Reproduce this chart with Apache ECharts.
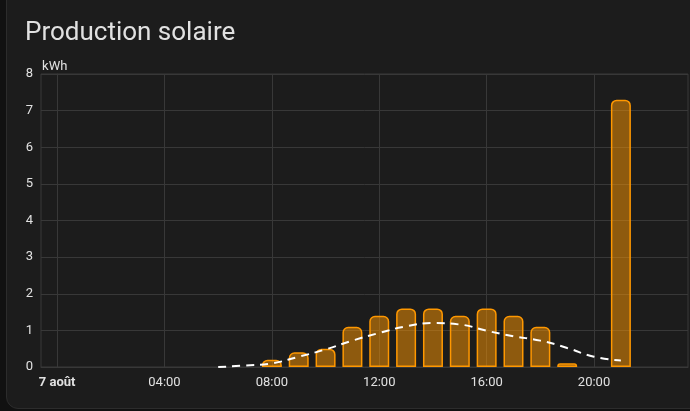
<!DOCTYPE html>
<html>
<head>
<meta charset="utf-8">
<script src="https://cdn.jsdelivr.net/npm/echarts@6/dist/echarts.min.js"></script>
<style>
  html, body { margin: 0; padding: 0; background: #111111; }
  #card {
    position: absolute; left: 6px; top: -20px; width: 700px; height: 427px;
    background: #1c1c1c; border: 1px solid #2c2c2c; border-radius: 12px;
  }
  #chart { position: absolute; left: 0; top: 0; width: 690px; height: 411px; }
</style>
</head>
<body>
<div id="card"></div>
<div id="chart"></div>
<script>
// production par heure (kWh)
var barHours = [8, 9, 10, 11, 12, 13, 14, 15, 16, 17, 18, 19, 20, 21];
var barValues = [0.2, 0.4, 0.5, 1.1, 1.4, 1.6, 1.6, 1.4, 1.6, 1.4, 1.1, 0.1, 0, 7.3];
// prévision (ligne pointillée)
var forecastHours = [6, 7, 8, 9, 10, 11, 12, 13, 14, 15, 16, 17, 18, 19, 20, 21];
var forecastValues = [0, 0.04, 0.1, 0.28, 0.48, 0.72, 0.93, 1.11, 1.2, 1.16, 0.99, 0.84, 0.72, 0.52, 0.28, 0.18];
// graduations de l'axe horaire
var tickHours = [0, 4, 8, 12, 16, 20];
var tickLabels = ['7 août', '04:00', '08:00', '12:00', '16:00', '20:00'];

var textColor = '#e1e1e1';
var gridColor = '#383838';

var chart = echarts.init(document.getElementById('chart'));

var barData = barHours.map(function(h, i) {
    return [h, barValues[i] > 0 ? barValues[i] : null];
});
var lineData = forecastHours.map(function(h, i) {
    return [h, forecastValues[i]];
});

chart.setOption({
    backgroundColor: 'transparent',
    animation: false,
    textStyle: { fontFamily: 'Roboto' },
    title: {
        text: 'Production solaire',
        left: 20,
        top: 15,
        textStyle: { color: textColor, fontSize: 26, fontWeight: 'normal', fontFamily: 'Roboto' }
    },
    grid: {
        left: 41, right: 2, top: 74, bottom: 44,
        show: true, borderColor: gridColor, borderWidth: 1
    },
    xAxis: {
        type: 'value',
        min: -0.6,
        max: 23.5,
        axisLine: { show: true, lineStyle: { color: gridColor } },
        axisTick: { show: false, customValues: tickHours },
        splitLine: { show: true, lineStyle: { color: gridColor } },
        axisLabel: {
            customValues: tickHours,
            color: textColor,
            fontSize: 13,
            margin: 9,
            formatter: function(v) {
                var i = tickHours.indexOf(v);
                var s = i >= 0 ? tickLabels[i] : '';
                return i === 0 ? '{b|' + s + '}' : s;
            },
            rich: { b: { fontWeight: 'bold', color: textColor, fontSize: 13 } }
        }
    },
    yAxis: {
        type: 'value',
        min: 0,
        max: 8,
        interval: 1,
        name: 'kWh',
        nameGap: 1,
        nameTextStyle: { color: textColor, fontSize: 13, align: 'left', padding: [0, 0, 0, -15] },
        axisLine: { show: true, lineStyle: { color: gridColor } },
        axisTick: { show: false },
        splitLine: { show: true, lineStyle: { color: gridColor } },
        axisLabel: { color: textColor, fontSize: 13, margin: 8 }
    },
    series: [{
        type: 'bar',
        data: barData,
        barWidth: 20,
        itemStyle: {
            color: 'rgba(255,152,0,0.5)',
            borderColor: '#ff9800',
            borderWidth: 1.5,
            borderRadius: [5, 5, 0, 0]
        }
    }, {
        type: 'line',
        data: lineData,
        smooth: true,
        showSymbol: false,
        symbol: 'none',
        z: 3,
        lineStyle: { color: '#ffffff', width: 2, type: [8, 6] }
    }]
});
</script>
</body>
</html>
